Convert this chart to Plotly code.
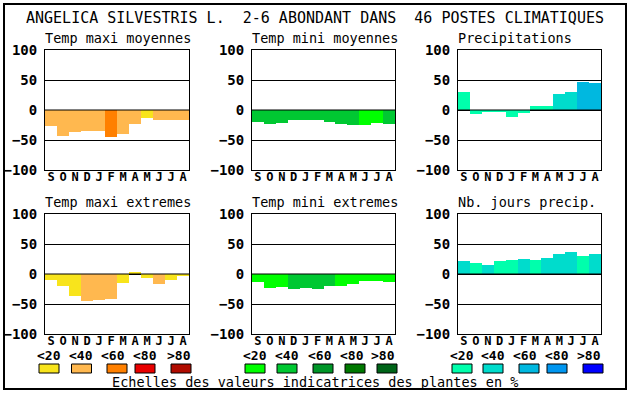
import plotly.graph_objects as go

W, H = 630, 394
MONO = "DejaVu Sans Mono"

title = "ANGELICA SILVESTRIS L.  2-6 ABONDANT DANS  46 POSTES CLIMATIQUES"
months = ["S", "O", "N", "D", "J", "F", "M", "A", "M", "J", "J", "A"]
yticks = [-100, -50, 0, 50, 100]
footer = "Echelles des valeurs indicatrices des plantes en %"
scale_labels = ["<20", "<40", "<60", "<80", ">80"]

pal_temp_max = ["#F8E41C", "#FFB84F", "#FF8000", "#E80000", "#B00C00"]
pal_temp_min = ["#00FF00", "#00C832", "#009628", "#007800", "#006418"]
pal_precip = ["#00FFAC", "#00DCCC", "#00B8E0", "#0096F0", "#0000FF"]

panel_titles = ["Temp maxi moyennes", "Temp mini moyennes", "Precipitations",
                "Temp maxi extremes", "Temp mini extremes", "Nb. jours precip."]

v_tmax_moy = [-27, -44, -37, -35.5, -35.5, -45.5, -40.5, -24, -14, -17, -16, -17]
c_tmax_moy = [1, 1, 1, 1, 1, 2, 1, 1, 0, 1, 1, 1]
v_tmin_moy = [-20.5, -24, -22, -16, -16, -17, -20.5, -24, -25.5, -25.5, -22, -24]
c_tmin_moy = [1, 1, 1, 1, 1, 1, 1, 1, 1, 0, 0, 1]
v_precip = [30, -7, -4, -2, -12, -5.5, 6.5, 6.5, 26.5, 30, 46.5, 45]
c_precip = [0, 0, 0, 0, 0, 0, 0, 0, 1, 1, 2, 2]
v_tmax_ext = [-10.5, -20.5, -37, -45.5, -44, -42, -15.5, 2, -7, -17, -10.5, -4]
c_tmax_ext = [0, 0, 0, 1, 1, 1, 0, 0, 0, 1, 0, 0]
v_tmin_ext = [-14, -24, -22, -25.5, -24, -25.5, -20.5, -20.5, -17, -12, -12, -14]
c_tmin_ext = [0, 0, 0, 1, 1, 1, 1, 0, 0, 0, 0, 0]
v_jours = [21, 18, 15.5, 21, 24, 25.5, 24, 27, 34, 37, 30.5, 34]
c_jours = [1, 0, 1, 0, 0, 1, 0, 1, 1, 1, 0, 1]

panels = [
    (v_tmax_moy, c_tmax_moy, pal_temp_max),
    (v_tmin_moy, c_tmin_moy, pal_temp_min),
    (v_precip, c_precip, pal_precip),
    (v_tmax_ext, c_tmax_ext, pal_temp_max),
    (v_tmin_ext, c_tmin_ext, pal_temp_min),
    (v_jours, c_jours, pal_precip),
]

# layout geometry in pixels
col_x = [(45, 189), (252, 395), (458, 601)]
row_y = [(50, 170), (214, 334)]
title_y = [38, 202]


def px(x):
    return x / W


def py(y):
    return 1 - y / H


fig = go.Figure()
shapes = []
annotations = []

for i, (vals, lev, pal) in enumerate(panels):
    r, c = divmod(i, 3)
    n = i + 1
    xa = "x" if n == 1 else f"x{n}"
    ya = "y" if n == 1 else f"y{n}"
    fig.add_trace(go.Bar(
        x=list(range(12)), y=vals,
        marker=dict(color=[pal[k] for k in lev], line=dict(width=0)),
        xaxis=xa, yaxis=ya, showlegend=False, hoverinfo="skip",
    ))
    x0, x1 = col_x[c]
    y0, y1 = row_y[r]
    xkey = "xaxis" if n == 1 else f"xaxis{n}"
    ykey = "yaxis" if n == 1 else f"yaxis{n}"
    fig.update_layout(**{
        xkey: dict(domain=[px(x0), px(x1)], range=[-0.5, 11.5], anchor=ya,
                   tickvals=list(range(12)), ticktext=months,
                   tickfont=dict(family=MONO, size=12, color="black", weight="bold"),
                   showline=True, mirror=True, linecolor="black", linewidth=1,
                   showgrid=False, zeroline=False, ticks="", fixedrange=True,
                   automargin=False, ticklabelstandoff=-4),
        ykey: dict(domain=[py(y1), py(y0)], range=[-100, 100], anchor=xa,
                   tickvals=yticks,
                   tickfont=dict(family=MONO, size=14, color="black", weight="bold"),
                   showline=True, mirror=True, linecolor="black", linewidth=1,
                   showgrid=True, gridcolor="black", gridwidth=1,
                   zeroline=False, ticks="outside", ticklen=4,
                   tickcolor="rgba(0,0,0,0)", fixedrange=True, automargin=False),
    })
    # zero line drawn above bars
    shapes.append(dict(type="line", xref=f"{xa} domain", yref=ya, x0=0, x1=1,
                       y0=0, y1=0, line=dict(color="black", width=1), layer="above"))
    annotations.append(dict(text=panel_titles[i], xref="paper", yref="paper",
                            x=px(x0 - 2), y=py(title_y[r]), xanchor="left", yanchor="middle",
                            showarrow=False,
                            font=dict(family=MONO, size=13.5, color="black")))

# main title
annotations.append(dict(text=title, xref="paper", yref="paper", x=px(315), y=py(18),
                        xanchor="center", yanchor="middle", showarrow=False,
                        font=dict(family=MONO, size=15, color="black")))
# footer
annotations.append(dict(text=footer, xref="paper", yref="paper", x=px(315), y=py(382),
                        xanchor="center", yanchor="middle", showarrow=False,
                        font=dict(family=MONO, size=13.5, color="black")))

# colour scale legends
label_cx = [[49, 81, 113, 145, 179], [255, 287, 320, 352, 383], [462, 493, 525, 557, 589]]
box_cx = [[49, 81.5, 117, 145, 181], [255, 287, 323, 355, 387], [462, 493, 529, 557, 593]]
for g, pal in enumerate([pal_temp_max, pal_temp_min, pal_precip]):
    for k in range(5):
        annotations.append(dict(text=scale_labels[k], xref="paper", yref="paper",
                                x=px(label_cx[g][k]), y=py(355), xanchor="center",
                                yanchor="middle", showarrow=False,
                                font=dict(family=MONO, size=13, color="black", weight="bold")))
        bx = box_cx[g][k]
        shapes.append(dict(type="rect", xref="paper", yref="paper",
                           x0=px(bx - 10), x1=px(bx + 10), y0=py(373), y1=py(364),
                           fillcolor=pal[k], line=dict(color="black", width=1)))

# outer frame
shapes.append(dict(type="rect", xref="paper", yref="paper", x0=px(4), x1=px(626),
                   y0=py(389), y1=py(4), line=dict(color="black", width=2)))

fig.update_layout(width=W, height=H, margin=dict(l=0, r=0, t=0, b=0, autoexpand=False),
                  paper_bgcolor="white", plot_bgcolor="white", bargap=0,
                  shapes=shapes, annotations=annotations)

fig.write_html("out.html", config={"displayModeBar": False},
               post_script="document.body.style.margin='0';document.body.style.overflow='hidden';")
